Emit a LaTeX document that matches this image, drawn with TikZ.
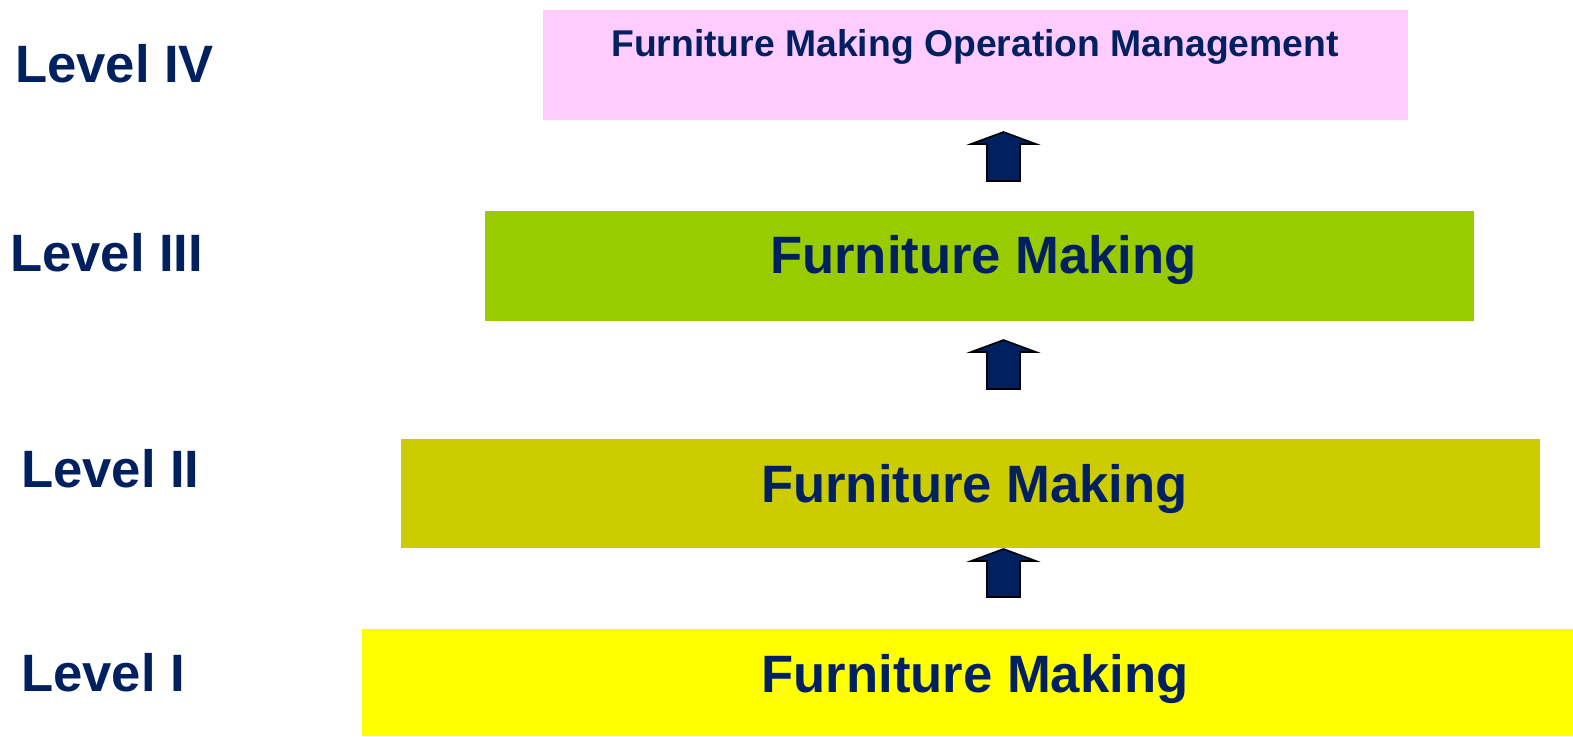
\documentclass[tikz,border=0pt]{standalone}
\usepackage{fontspec}
\setmainfont{Liberation Sans}
\definecolor{navy}{RGB}{0,32,96}
\definecolor{tierfour}{RGB}{255,204,255}
\definecolor{tierthree}{RGB}{153,204,0}
\definecolor{tiertwo}{RGB}{204,204,0}
\definecolor{tierone}{RGB}{255,255,0}
\begin{document}
\begin{tikzpicture}[x=1pt,y=-1pt,
  tierbox/.style={draw=none,inner sep=0pt,anchor=north west},
  levellabel/.style={inner sep=0pt,anchor=base west,text=navy,font=\bfseries\fontsize{52.6}{60}\selectfont},
  tiertext/.style={inner sep=0pt,anchor=base,text=navy,font=\bfseries\fontsize{52.6}{60}\selectfont},
  toptext/.style={inner sep=0pt,anchor=base,text=navy,font=\bfseries\fontsize{37.3}{42}\selectfont},
  arrowbody/.style={draw=black,line width=1.6pt,fill=navy,line join=miter},
  pics/uparrow/.style={code={
    \path[arrowbody] (-32.5,12) -- (0,0) -- (32.5,12) -- (16.5,12)
      -- (16.5,#1) -- (-16.5,#1) -- (-16.5,12) -- cycle;}}
]
\useasboundingbox (0,0) rectangle (1573,736);

% the four tiers
\node[tierbox,fill=tierfour,minimum width=865pt,minimum height=110pt] (t4) at (543,10) {};
\node[tierbox,fill=tierthree,minimum width=989pt,minimum height=110pt] (t3) at (485,211) {};
\node[tierbox,fill=tiertwo,minimum width=1139pt,minimum height=109pt] (t2) at (401,439) {};
\node[tierbox,fill=tierone,minimum width=1211pt,minimum height=107pt] (t1) at (362,629) {};

% tier titles
\node[toptext] (t4text) at (975,56) {Furniture Making Operation Management};
\node[tiertext] (t3text) at (983.5,273) {Furniture Making};
\node[tiertext] (t2text) at (974.5,502) {Furniture Making};
\node[tiertext] (t1text) at (975,692) {Furniture Making};

% level labels
\node[levellabel] (lab4) at (15,82) {Level IV};
\node[levellabel] (lab3) at (10,271) {Level III};
\node[levellabel] (lab2) at (21,487) {Level II};
\node[levellabel] (lab1) at (21,691) {Level I};

% block arrows between the tiers
\pic at (1003.5,132) {uparrow=49};
\pic at (1003.5,340) {uparrow=49};
\pic at (1003.5,549) {uparrow=48};
\end{tikzpicture}
\end{document}
